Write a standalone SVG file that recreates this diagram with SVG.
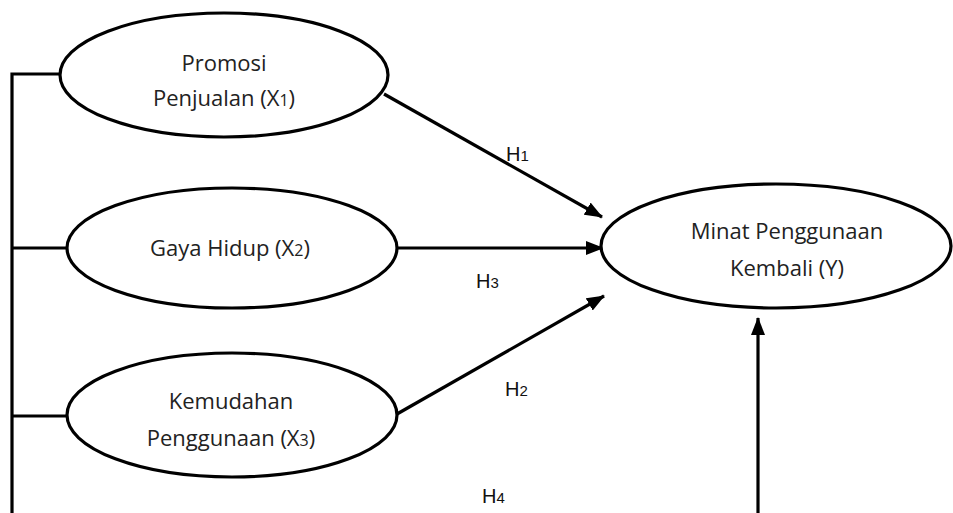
<svg xmlns="http://www.w3.org/2000/svg" width="953" height="513" viewBox="0 0 953 513">
<style>
.node ellipse{fill:#fff;stroke:#000;stroke-width:3.2}
.lbl{font-family:"Open Sans","Noto Sans",sans-serif;font-size:22px;fill:#222;text-anchor:middle}
.sub{font-size:16px}
.h{font-family:"Liberation Sans",Arial,sans-serif;font-size:20px;fill:#111}
.hs{font-size:15px}
.conn line,.conn polyline{stroke:#000;stroke-width:3.2;fill:none}
</style>
<defs>
<marker id="arr" markerUnits="userSpaceOnUse" markerWidth="18" markerHeight="14" refX="17" refY="7" orient="auto">
<path d="M0,0 L18,7 L0,14 z" fill="#000"/>
</marker>
</defs>
<rect width="953" height="513" fill="#fff"/>
<g id="connectors" class="conn">
<polyline points="62,74 12,74 12,513"/>
<line x1="12" y1="248" x2="67" y2="248"/>
<line x1="12" y1="416" x2="67" y2="416"/>
<line x1="384" y1="94" x2="602" y2="217" marker-end="url(#arr)"/>
<line x1="397" y1="248" x2="603" y2="248" marker-end="url(#arr)"/>
<line x1="397" y1="414" x2="604" y2="296" marker-end="url(#arr)"/>
<line x1="758" y1="513" x2="758" y2="318" marker-end="url(#arr)"/>
</g>
<g id="labels">
<text class="h" x="506" y="161">H<tspan class="hs">1</tspan></text>
<text class="h" x="476" y="288">H<tspan class="hs">3</tspan></text>
<text class="h" x="505" y="396">H<tspan class="hs">2</tspan></text>
<text class="h" x="482" y="503">H<tspan class="hs">4</tspan></text>
</g>
<g id="x1" class="node">
<ellipse cx="224" cy="75" rx="164" ry="62"/>
<text class="lbl" x="224" y="71">Promosi</text>
<text class="lbl" x="224" y="106">Penjualan (X<tspan class="sub">1</tspan>)</text>
</g>
<g id="x2" class="node">
<ellipse cx="232" cy="248" rx="165" ry="60"/>
<text class="lbl" x="230" y="256">Gaya Hidup (X<tspan class="sub">2</tspan>)</text>
</g>
<g id="x3" class="node">
<ellipse cx="232" cy="415" rx="165" ry="62"/>
<text class="lbl" x="231" y="409">Kemudahan</text>
<text class="lbl" x="231" y="446">Penggunaan (X<tspan class="sub">3</tspan>)</text>
</g>
<g id="y" class="node">
<ellipse cx="776" cy="246" rx="175" ry="62"/>
<text class="lbl" x="787" y="239">Minat Penggunaan</text>
<text class="lbl" x="787" y="276">Kembali (Y)</text>
</g>
</svg>
